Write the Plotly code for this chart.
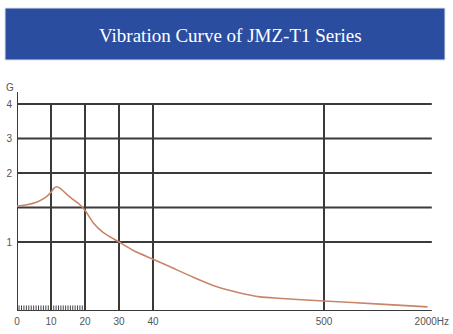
import numpy as np
import plotly.graph_objects as go

# ---- data ----
title_text = "Vibration Curve of JMZ-T1 Series"
freq_ticks = [0, 10, 20, 30, 40, 500, 2000]
freq_labels = ["0", "10", "20", "30", "40", "500", "2000Hz"]
g_ticks = [1, 2, 3, 4]
g_labels = ["1", "2", "3", "4"]
g_grid = [1, 1.5, 2, 3, 4]
v_grid = [10, 20, 30, 40, 500]

curve_freq = [0, 2.9, 5.9, 8.5, 10, 10.9, 11.8, 12.6, 15.6, 18.5, 20, 22.4, 25.3, 30,
              34.1, 40, 86, 148, 212, 274, 328, 376, 500, 1280, 1940]
curve_g = [1.52, 1.54, 1.58, 1.65, 1.72, 1.78, 1.80, 1.78, 1.65, 1.54, 1.46, 1.28, 1.14, 1.0,
           0.88, 0.75, 0.64, 0.49, 0.35, 0.26, 0.205, 0.185, 0.145, 0.10, 0.06]

# ---- non-uniform axis scales (piecewise) ----
freq_pos = [0, 1, 2, 3, 4, 9.03, 12.2]
g_scale_vals = [0, 1, 1.5, 2, 3, 4]
g_scale_pos = [0, 2, 3, 4, 5, 6]

def fx(f):
    return np.interp(f, freq_ticks, freq_pos)

def gy(g):
    return np.interp(g, g_scale_vals, g_scale_pos)

W, H = 453, 334
L, R, T, B = 17, 13, 92, 23
xr = [0, (W - L - R) / 34.0]
yr = [0, (H - T - B) / 34.5]

def px(xp):
    return (xp - L) / (W - L - R)

def py(yp):
    return (H - B - yp) / (H - T - B)

grid_col = "#3a3a3a"
fig = go.Figure()

# minor tick dashes near origin
minor_f = np.concatenate([np.linspace(0.6, 9.2, 13), np.linspace(10.8, 19.2, 13)])
fig.add_trace(go.Scatter(x=fx(minor_f), y=[0.08] * len(minor_f), mode="markers",
                         marker=dict(symbol="line-ns", size=4, line=dict(width=1, color="#444")),
                         hoverinfo="skip", showlegend=False))

fig.add_trace(go.Scatter(x=fx(curve_freq), y=gy(curve_g), mode="lines",
                         line=dict(color="#c8856a", width=1.6, shape="spline", smoothing=0.6),
                         showlegend=False))

shapes = []
xend = fx(2000)
for g in g_grid:
    shapes.append(dict(type="line", xref="x", yref="y", x0=0, x1=xend, y0=gy(g), y1=gy(g),
                       line=dict(color=grid_col, width=2), layer="below"))
for f in v_grid:
    shapes.append(dict(type="line", xref="x", yref="y", x0=fx(f), x1=fx(f), y0=0, y1=gy(4),
                       line=dict(color=grid_col, width=2), layer="below"))
shapes.append(dict(type="line", xref="x", yref="y", x0=0, x1=xend, y0=0, y1=0,
                   line=dict(color=grid_col, width=2), layer="below"))
shapes.append(dict(type="line", xref="x", yref="y", x0=0, x1=0, y0=0, y1=yr[1],
                   line=dict(color=grid_col, width=2), layer="below"))
# title banner
shapes.append(dict(type="rect", xref="paper", yref="paper", x0=px(5), x1=px(445), y0=py(60), y1=py(8),
                   fillcolor="#2a4d9f", line=dict(color="#dfe3ee", width=1), layer="below"))

annotations = [
    dict(text=title_text, xref="paper", yref="paper", x=px(231), y=py(35), showarrow=False,
         xanchor="center", yanchor="middle",
         font=dict(family="Liberation Serif", size=19, color="white")),
    dict(text="G", xref="paper", yref="paper", x=px(10), y=py(87), showarrow=False,
         xanchor="center", yanchor="middle",
         font=dict(family="Liberation Sans", size=10, color="#555")),
]

fig.update_layout(
    width=W, height=H, margin=dict(l=L, r=R, t=T, b=B),
    paper_bgcolor="white", plot_bgcolor="white",
    shapes=shapes, annotations=annotations,
    xaxis=dict(range=xr, showgrid=False, zeroline=False, showline=False, automargin=False,
               tickmode="array", tickvals=list(fx(freq_ticks)), ticktext=freq_labels,
               ticks="", ticklabelstandoff=3,
               tickfont=dict(family="Liberation Sans", size=10, color="#555")),
    yaxis=dict(range=yr, showgrid=False, zeroline=False, showline=False, automargin=False,
               tickmode="array", tickvals=list(gy(g_ticks)), ticktext=g_labels,
               ticks="", ticklabelstandoff=4,
               tickfont=dict(family="Liberation Sans", size=10, color="#555")),
)

fig.write_html("out.html")
